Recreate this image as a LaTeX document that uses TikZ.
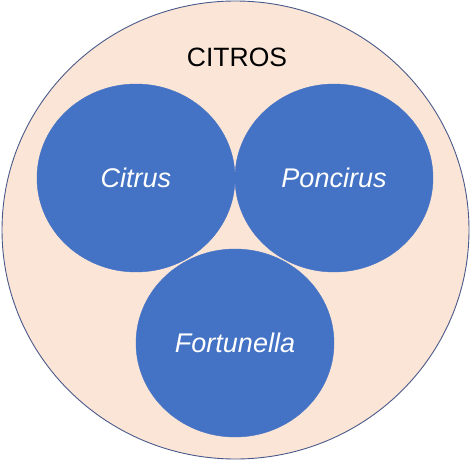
\documentclass[tikz,border=0pt]{standalone}
\usepackage{fontspec}
\setmainfont{Liberation Sans}
\usetikzlibrary{shapes.geometric}
\begin{document}
\begin{tikzpicture}[x=1pt,y=-1pt,
  outer/.style={ellipse, draw=bordercol, line width=0.9pt, fill=peach, minimum width=467pt, minimum height=458pt, inner sep=0pt},
  genus/.style={ellipse, fill=blueC, draw=blueC, line width=0.4pt, minimum width=198pt, minimum height=188pt, inner sep=0pt, text=white, font=\fontsize{27}{32}\selectfont\itshape},
  title/.style={font=\fontsize{26.5}{31}\selectfont, text=black}]
\definecolor{peach}{HTML}{FBE5D6}
\definecolor{blueC}{HTML}{4472C4}
\definecolor{bordercol}{HTML}{4A5A8A}
\useasboundingbox (0,0) rectangle (470,460);
\node[outer] (citros) at (235.5,230) {};
\node[title] (title) at (237,57) {CITROS};
\node[genus] (citrus) at (136,178) {Citrus};
\node[genus] (poncirus) at (334,178) {Poncirus};
\node[genus] (fortunella) at (235,343) {Fortunella};
\end{tikzpicture}
\end{document}
